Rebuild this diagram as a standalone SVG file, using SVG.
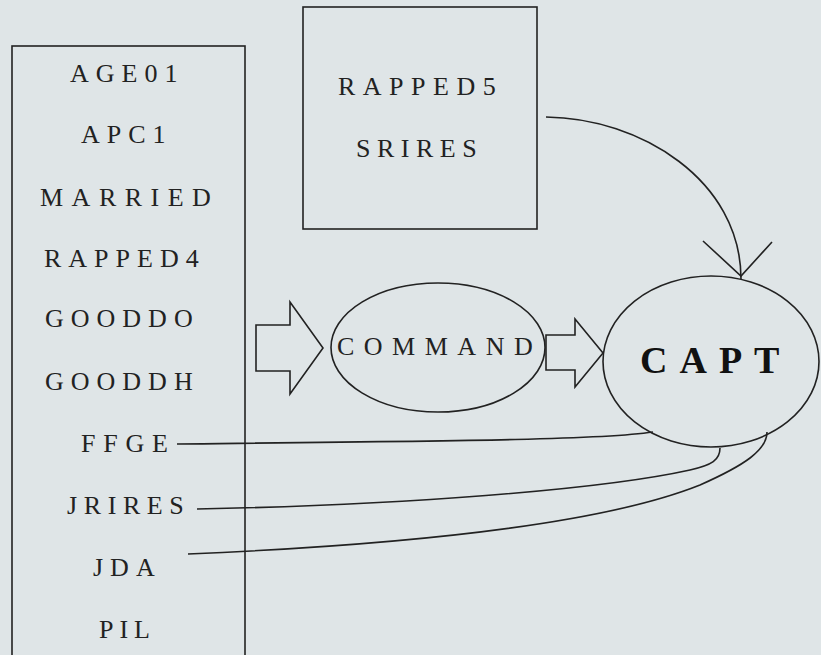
<svg xmlns="http://www.w3.org/2000/svg" width="821" height="655" viewBox="0 0 821 655">
<style>
.bg{fill:#dfe5e7}
.ln{fill:none;stroke:#222;stroke-width:1.6}
.t{font-family:"Liberation Serif","Times New Roman",serif;font-size:26px;fill:#222;letter-spacing:7px}
.tb{font-family:"Liberation Serif","Times New Roman",serif;font-size:38px;font-weight:bold;fill:#111;letter-spacing:12px}
</style>
<rect class="bg" x="0" y="0" width="821" height="655"/>
<g id="vars">
<rect class="ln" x="12" y="46" width="233" height="620"/>
<text class="t" x="70" y="82">AGE01</text>
<text class="t" x="81" y="143">APC1</text>
<text class="t" x="40" y="206" style="letter-spacing:8.5px">MARRIED</text>
<text class="t" x="44" y="267">RAPPED4</text>
<text class="t" x="45" y="327">GOODDO</text>
<text class="t" x="45" y="390">GOODDH</text>
<text class="t" x="81" y="452" style="letter-spacing:7.8px">FFGE</text>
<text class="t" x="67" y="514" style="letter-spacing:6.6px">JRIRES</text>
<text class="t" x="93" y="576">JDA</text>
<text class="t" x="99" y="638" style="letter-spacing:6px">PIL</text>
</g>
<g id="rapped5">
<rect class="ln" x="303" y="7" width="234" height="222"/>
<text class="t" x="338" y="95" style="letter-spacing:7.5px">RAPPED5</text>
<text class="t" x="356" y="157" style="letter-spacing:6.5px">SRIRES</text>
</g>
<g id="command">
<ellipse class="ln" cx="438" cy="347.5" rx="107" ry="64.5"/>
<text class="t" x="337" y="355" style="letter-spacing:9.5px">COMMAND</text>
</g>
<g id="capt">
<ellipse class="ln" cx="711" cy="361.5" rx="108" ry="85.5"/>
<text class="tb" x="640" y="373">CAPT</text>
</g>
<g id="connectors">
<path class="ln" d="M256,325 L290,325 L290,302 L323,348 L290,394 L290,371 L256,371 Z"/>
<path class="ln" d="M546,335 L575,335 L575,319 L603,353 L575,387 L575,370 L546,370 Z"/>
<path class="ln" d="M546,117 C640,118 741,180 741,279"/>
<path class="ln" d="M703,241 L741,276 L772,242"/>
<path class="ln" d="M177,444 C450,441 600,440 653,432"/>
<path class="ln" d="M197,509 C400,505 600,490 690,470 C712,465 720,460 720,448"/>
<path class="ln" d="M188,554 C400,545 600,525 700,485 C745,465 767,450 767,432"/>
</g>
</svg>
